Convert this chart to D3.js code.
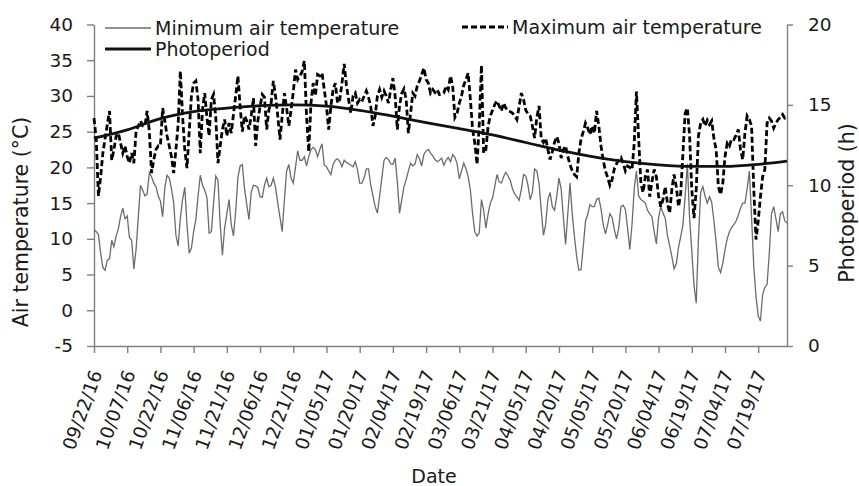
<!DOCTYPE html>
<html>
<head>
<meta charset="utf-8">
<script src="https://cdn.jsdelivr.net/npm/d3@7"></script>
<style>
  body { margin: 0; background: #fff; }
  svg text { font-family: "DejaVu Sans", sans-serif; fill: #1a1a1a; }
</style>
</head>
<body>
<div id="chart"></div>
<script>
// daily series start on this date, one value per day
var startDate = "09/22/16"

var minTemp = [
  11.3, 11.0, 10.6, 8.0, 6.0, 5.6, 7.0, 7.2, 9.8, 8.9,
  10.4, 11.4, 13.1, 14.3, 12.8, 13.2, 10.2, 9.8, 5.8, 8.5,
  13.0, 17.5, 16.8, 16.0, 16.3, 19.3, 18.7, 17.8, 17.3, 16.0,
  15.3, 13.1, 17.2, 18.9, 18.5, 17.0, 15.0, 10.5, 9.0, 12.9,
  15.5, 17.2, 12.0, 8.0, 8.7, 11.0, 12.7, 16.0, 18.9, 17.5,
  16.8, 15.8, 10.8, 11.0, 15.0, 18.8, 18.2, 12.0, 7.7, 11.5,
  13.5, 15.5, 12.0, 10.4, 13.9, 18.6, 20.2, 20.4, 17.0, 14.8,
  12.7, 16.5, 17.5, 17.4, 17.2, 15.9, 15.8, 17.5, 18.5, 17.3,
  17.5, 18.5, 17.2, 15.0, 13.0, 11.0, 15.5, 19.5, 20.4, 18.5,
  17.8, 20.0, 22.3, 21.0, 21.0, 21.5, 20.2, 21.5, 22.5, 22.8,
  22.5, 21.5, 22.5, 23.3, 20.3, 20.1, 19.5, 19.0, 20.4, 21.0,
  21.2, 20.8, 20.1, 21.0, 20.7, 20.5, 20.3, 20.1, 20.8, 19.7,
  17.8, 17.8, 18.5, 19.8, 19.8, 17.5, 16.0, 14.5, 13.6, 16.0,
  18.5, 21.0, 21.4, 21.1, 20.5, 20.4, 21.3, 18.0, 13.6, 15.5,
  17.3, 18.3, 19.5, 20.6, 20.2, 20.5, 21.8, 21.2, 20.2, 21.8,
  22.3, 22.5, 22.0, 21.6, 21.1, 20.8, 21.0, 21.3, 20.3, 21.0,
  21.4, 20.8, 21.8, 21.4, 20.5, 18.4, 19.5, 20.6, 19.8, 18.7,
  16.8, 13.5, 11.0, 10.4, 10.8, 15.5, 14.0, 11.5, 13.5, 15.0,
  15.7, 17.3, 19.0, 18.0, 17.8, 18.7, 19.3, 18.8, 18.2, 17.0,
  16.3, 15.9, 15.4, 16.9, 19.0, 18.8, 17.5, 15.5, 16.5, 19.8,
  19.5, 17.8, 14.0, 10.5, 12.0, 15.5, 16.5, 14.5, 14.0, 15.9,
  18.5, 17.0, 13.0, 9.2, 13.5, 17.8, 13.5, 10.3, 7.5, 5.6,
  5.7, 9.0, 12.5, 13.4, 14.8, 14.5, 14.5, 15.5, 15.7, 14.2,
  12.0, 10.7, 12.0, 13.5, 13.0, 11.3, 10.0, 11.5, 14.5, 14.7,
  14.1, 11.5, 8.5, 12.0, 17.0, 19.5, 16.0, 15.5, 15.3, 15.0,
  14.0, 13.5, 13.1, 11.0, 9.3, 13.0, 14.5, 13.6, 12.9, 10.5,
  9.0, 7.5, 5.8, 6.5, 8.8, 10.3, 12.0, 16.0, 20.5, 13.0,
  8.3, 3.5, 1.0, 10.0, 16.5, 17.3, 16.0, 15.0, 15.9, 15.1,
  12.5, 9.5, 6.0, 5.3, 6.6, 8.5, 10.0, 11.0, 11.6, 12.0,
  12.5, 13.3, 14.3, 15.0, 15.0, 17.0, 19.5, 13.0, 6.1, 1.9,
  -0.8, -1.5, 2.2, 3.2, 3.6, 8.0, 13.5, 14.5, 12.8, 11.0,
  13.5, 13.8, 12.5, 12.2
]

var maxTemp = [
  26.9, 24.0, 16.0, 18.7, 22.0, 24.0, 26.0, 27.9, 21.0, 22.5,
  24.4, 24.8, 23.4, 22.0, 23.0, 21.5, 20.6, 22.0, 20.6, 25.0,
  25.8, 26.5, 25.8, 25.8, 27.9, 25.0, 19.2, 21.1, 22.5, 23.0,
  23.0, 28.3, 26.5, 24.4, 23.0, 21.5, 19.2, 22.5, 26.0, 33.5,
  27.2, 22.5, 19.9, 25.0, 30.0, 31.8, 32.1, 29.5, 22.0, 28.1,
  30.4, 27.0, 24.4, 29.5, 30.2, 27.0, 20.6, 23.0, 25.3, 26.7,
  24.4, 26.2, 24.8, 27.5, 30.0, 32.8, 28.5, 25.0, 27.2, 26.5,
  25.3, 27.2, 29.7, 23.0, 26.5, 28.5, 30.2, 29.8, 25.3, 28.1,
  29.0, 32.1, 30.0, 27.2, 23.9, 27.2, 30.4, 28.3, 25.8, 28.0,
  30.5, 33.7, 32.3, 32.8, 33.4, 34.9, 27.2, 22.2, 29.0, 31.8,
  30.0, 33.0, 32.8, 33.2, 30.9, 28.6, 25.3, 28.6, 30.9, 31.8,
  29.0, 29.5, 31.8, 34.5, 31.5, 29.5, 27.6, 30.0, 30.4, 29.0,
  29.5, 29.2, 30.0, 30.7, 29.8, 28.5, 25.8, 27.2, 30.0, 30.9,
  29.8, 30.7, 30.0, 29.0, 30.9, 32.5, 30.0, 25.3, 28.6, 30.4,
  31.0, 29.5, 24.8, 27.6, 30.4, 30.0, 31.4, 32.1, 33.0, 33.9,
  32.3, 31.8, 30.4, 30.9, 30.5, 30.9, 30.2, 30.3, 30.4, 31.4,
  30.9, 32.8, 31.4, 27.0, 27.6, 29.0, 30.0, 31.5, 32.3, 33.2,
  29.5, 25.3, 23.4, 20.4, 26.0, 34.3, 22.0, 22.5, 25.8, 27.2,
  28.0, 28.8, 29.3, 28.6, 27.9, 29.0, 28.3, 27.9, 27.8, 27.6,
  27.2, 26.7, 28.5, 30.4, 29.5, 28.0, 27.5, 27.2, 25.8, 24.1,
  27.0, 28.6, 24.0, 23.5, 24.1, 22.5, 21.1, 22.2, 23.5, 24.3,
  23.4, 21.3, 22.5, 23.0, 21.5, 20.4, 19.5, 19.0, 18.7, 22.0,
  24.0, 25.0, 26.2, 25.5, 24.6, 25.8, 24.8, 27.9, 25.8, 23.0,
  21.0, 19.5, 18.6, 17.5, 18.3, 19.8, 20.5, 21.1, 21.4, 20.6,
  19.5, 20.2, 20.0, 19.7, 23.4, 30.6, 24.0, 17.8, 16.5, 18.7,
  19.7, 15.9, 18.0, 19.7, 18.7, 16.0, 14.5, 15.5, 17.3, 15.0,
  13.6, 17.0, 19.0, 17.3, 14.5, 16.4, 22.0, 27.6, 28.3, 24.4,
  16.9, 12.9, 16.9, 24.4, 26.2, 26.7, 25.8, 26.6, 26.0, 26.5,
  24.0, 22.5, 17.3, 16.2, 17.8, 21.5, 23.4, 23.0, 24.0, 23.9,
  24.5, 25.3, 22.5, 21.1, 24.8, 27.2, 26.7, 25.8, 16.9, 9.9,
  12.5, 15.9, 18.7, 19.7, 26.2, 26.9, 26.5, 25.5, 26.2, 26.7,
  27.0, 27.4, 26.9, 27.0
]

// photoperiod read at the tick dates plus the last day
var photoDates = ["09/22/16", "10/07/16", "10/22/16", "11/06/16", "11/21/16", "12/06/16", "12/21/16",
  "01/05/17", "01/20/17", "02/04/17", "02/19/17", "03/06/17", "03/21/17", "04/05/17", "04/20/17",
  "05/05/17", "05/20/17", "06/04/17", "06/19/17", "07/04/17", "07/19/17", "08/01/17"]
var photoHours = [12.93, 13.45, 14.15, 14.58, 14.8, 14.95, 15.0,
  14.92, 14.66, 14.3, 13.9, 13.53, 13.13, 12.66, 12.18,
  11.78, 11.47, 11.27, 11.17, 11.17, 11.3, 11.5]

var tickLabels = ["09/22/16", "10/07/16", "10/22/16", "11/06/16", "11/21/16", "12/06/16", "12/21/16",
  "01/05/17", "01/20/17", "02/04/17", "02/19/17", "03/06/17", "03/21/17", "04/05/17", "04/20/17",
  "05/05/17", "05/20/17", "06/04/17", "06/19/17", "07/04/17", "07/19/17"]
var tempTicks = [-5, 0, 5, 10, 15, 20, 25, 30, 35, 40]
var photoTicks = [0, 5, 10, 15, 20]

var parse = d3.utcParse("%m/%d/%y")
var start = parse(startDate)

var width = 859, height = 486
var plotLeft = 94, plotRight = 787, plotTop = 24.5, plotBottom = 346
var axisColor = "#7f7f7f"

var svg = d3.select("#chart")
  .append("svg")
  .attr("width", width)
  .attr("height", height)

var x = d3.scaleUtc()
  .domain([start, d3.utcDay.offset(start, minTemp.length - 1)])
  .range([plotLeft, plotRight])

var y = d3.scaleLinear().domain([-5, 40]).range([plotBottom, plotTop])
var y2 = d3.scaleLinear().domain([0, 20]).range([plotBottom, plotTop])

// axes
var xAxis = svg.append("g")
  .attr("transform", "translate(0," + plotBottom + ")")
  .call(d3.axisBottom(x)
    .tickValues(tickLabels.map(parse))
    .tickSize(7)
    .tickSizeOuter(0)
    .tickFormat(d3.utcFormat("%m/%d/%y")))
xAxis.selectAll("text")
  .attr("font-size", 18.5)
  .attr("text-anchor", "end")
  .attr("dy", "0.35em")
  .attr("transform", "translate(2,25) rotate(-70)")
  .attr("x", 0).attr("y", 0)

// plain hyphen for negative numbers, as in the original
var plain = function(d) { return String(d) }

var yAxis = svg.append("g")
  .attr("transform", "translate(" + plotLeft + ",0)")
  .call(d3.axisLeft(y).tickValues(tempTicks).tickFormat(plain)
    .tickSize(7).tickSizeOuter(0).tickPadding(14))
yAxis.selectAll("text").attr("font-size", 18.5)

var y2Axis = svg.append("g")
  .attr("transform", "translate(" + plotRight + ",0)")
  .call(d3.axisRight(y2).tickValues(photoTicks).tickFormat(plain)
    .tickSize(6).tickSizeOuter(0).tickPadding(15))
y2Axis.selectAll("text").attr("font-size", 18.5)

svg.selectAll(".domain, .tick line")
  .attr("stroke", axisColor)
  .attr("stroke-width", 1.4)

// lines
var dayX = function(d, i) { return x(d3.utcDay.offset(start, i)) }

svg.append("path")
  .datum(minTemp)
  .attr("fill", "none")
  .attr("stroke", "#6b6b6b")
  .attr("stroke-width", 1.3)
  .attr("d", d3.line().x(dayX).y(function(d) { return y(d) }))

svg.append("path")
  .datum(maxTemp)
  .attr("fill", "none")
  .attr("stroke", "#000")
  .attr("stroke-width", 2.8)
  .attr("stroke-dasharray", "6,3")
  .attr("d", d3.line().x(dayX).y(function(d) { return y(d) }))

svg.append("path")
  .datum(photoHours)
  .attr("fill", "none")
  .attr("stroke", "#111")
  .attr("stroke-width", 2.8)
  .attr("d", d3.line()
    .x(function(d, i) { return x(parse(photoDates[i])) })
    .y(function(d) { return y2(d) })
    .curve(d3.curveMonotoneX))

// axis titles
svg.append("text")
  .attr("transform", "translate(28,222) rotate(-90)")
  .attr("text-anchor", "middle")
  .attr("font-size", 20.5)
  .text("Air temperature (°C)")

svg.append("text")
  .attr("transform", "translate(854,203) rotate(-90)")
  .attr("text-anchor", "middle")
  .attr("font-size", 20.5)
  .text("Photoperiod (h)")

svg.append("text")
  .attr("x", 434)
  .attr("y", 483)
  .attr("text-anchor", "middle")
  .attr("font-size", 19)
  .text("Date")

// legend
var legend = [
  {label: "Minimum air temperature", x: 105, y: 28, color: "#6b6b6b", w: 1.3, dash: null},
  {label: "Photoperiod", x: 105, y: 49, color: "#111", w: 2.8, dash: null},
  {label: "Maximum air temperature", x: 462, y: 27, color: "#000", w: 2.8, dash: "6,3"}
]
legend.forEach(function(l) {
  svg.append("line")
    .attr("x1", l.x).attr("x2", l.x + 46)
    .attr("y1", l.y).attr("y2", l.y)
    .attr("stroke", l.color)
    .attr("stroke-width", l.w)
    .attr("stroke-dasharray", l.dash)
  svg.append("text")
    .attr("x", l.x + 50)
    .attr("y", l.y + 6.5)
    .attr("font-size", 19)
    .text(l.label)
})
</script>
</body>
</html>
